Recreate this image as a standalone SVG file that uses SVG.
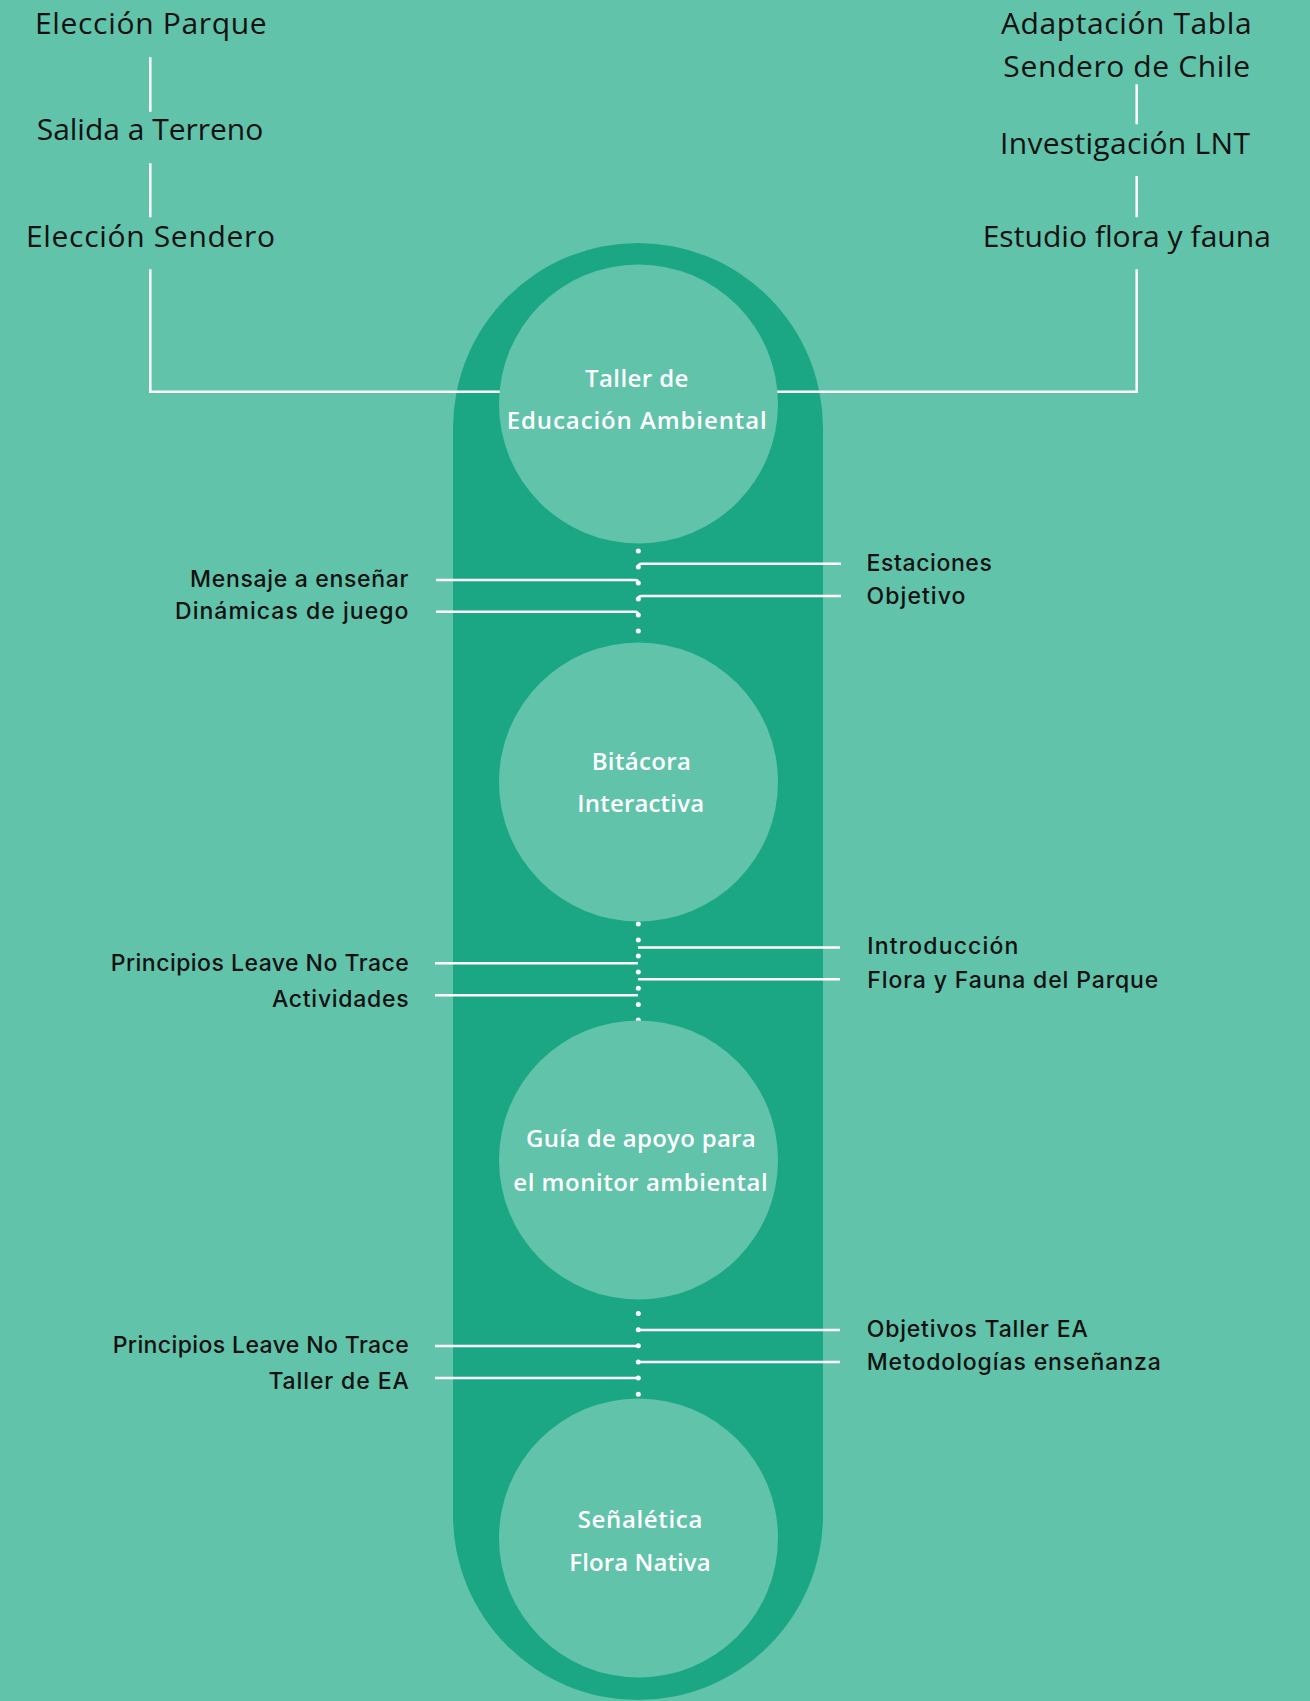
<svg xmlns="http://www.w3.org/2000/svg" width="1310" height="1701" viewBox="0 0 1310 1701">
<style>
.top{font-family:"Open Sans","Liberation Sans",sans-serif;font-size:30px;font-weight:400;fill:#111;text-anchor:middle}
.lbl{font-family:Inter,"Open Sans","Liberation Sans",sans-serif;font-size:23px;font-weight:500;fill:#111}
.r{text-anchor:end}
.ct{font-family:"Open Sans","Liberation Sans",sans-serif;font-size:24px;font-weight:600;fill:#fff;text-anchor:middle}
.ln{stroke:#fff;stroke-width:2.5;fill:none}
.node{fill:#60c3aa}
.dot{fill:#fff}
</style>
<rect width="1310" height="1701" fill="#60c3aa"/>
<rect id="track" x="453" y="243" width="370" height="1457" rx="185" ry="185" fill="#1ca784"/>

<g id="connectors">
  <path class="ln" d="M150.3 57.3V111.7M150.3 163.3V217.3M150.3 269.3V391.7H500"/>
  <path class="ln" d="M1136.7 84.3V124.3M1136.7 176V217.3M1136.7 269.3V391.7H777"/>
  <!-- section 1 -->
  <path class="ln" d="M841 563.7H642Q638.3 563.7 638.3 567"/>
  <path class="ln" d="M436 580H635Q638.3 580 638.3 583"/>
  <path class="ln" d="M841 596H642Q638.3 596 638.3 599"/>
  <path class="ln" d="M436 611.7H635Q638.3 611.7 638.3 615"/>
  <g class="dot">
    <circle cx="638.3" cy="551" r="2.5"/><circle cx="638.3" cy="567" r="2.5"/><circle cx="638.3" cy="583" r="2.5"/>
    <circle cx="638.3" cy="599" r="2.5"/><circle cx="638.3" cy="615" r="2.5"/><circle cx="638.3" cy="631" r="2.5"/>
  </g>
  <!-- section 2 -->
  <path class="ln" d="M638 947.5H840M435 963.3H638M638 979.3H840M435 995.3H638"/>
  <g class="dot">
    <circle cx="638.3" cy="924" r="2.5"/><circle cx="638.3" cy="940" r="2.5"/><circle cx="638.3" cy="956" r="2.5"/>
    <circle cx="638.3" cy="972" r="2.5"/><circle cx="638.3" cy="988.2" r="2.5"/><circle cx="638.3" cy="1004.5" r="2.5"/>
    <circle cx="638.3" cy="1020" r="2.5"/>
  </g>
  <!-- section 3 -->
  <path class="ln" d="M638 1330H840M435 1346H638M638 1362H840M435 1378H638"/>
  <g class="dot">
    <circle cx="638.3" cy="1313.5" r="2.5"/><circle cx="638.3" cy="1329.8" r="2.5"/><circle cx="638.3" cy="1345.8" r="2.5"/>
    <circle cx="638.3" cy="1362" r="2.5"/><circle cx="638.3" cy="1378" r="2.5"/><circle cx="638.3" cy="1394.3" r="2.5"/>
  </g>
</g>

<g id="eleccion-parque"><text class="top" x="150.8" y="34.3" textLength="231.7">Elección Parque</text></g>
<g id="salida-terreno"><text class="top" x="150" y="140" textLength="226.6">Salida a Terreno</text></g>
<g id="eleccion-sendero"><text class="top" x="150.5" y="246.7" textLength="249">Elección Sendero</text></g>
<g id="adaptacion-tabla">
  <text class="top" x="1126.3" y="34.3" textLength="250.7">Adaptación Tabla</text>
  <text class="top" x="1126.7" y="76.7" textLength="246.7">Sendero de Chile</text>
</g>
<g id="investigacion-lnt"><text class="top" x="1125" y="154.3" textLength="250">Investigación LNT</text></g>
<g id="estudio-flora"><text class="top" x="1126.8" y="246.7" textLength="288.3">Estudio flora y fauna</text></g>

<g id="taller-ea">
  <circle class="node" cx="638.5" cy="404" r="139.5"/>
  <text class="ct" x="636.7" y="386.7" textLength="103.3">Taller de</text>
  <text class="ct" x="636.7" y="429.3" textLength="260">Educación Ambiental</text>
</g>
<g id="bitacora">
  <circle class="node" cx="638.5" cy="782" r="139.5"/>
  <text class="ct" x="641.3" y="770" textLength="99.3">Bitácora</text>
  <text class="ct" x="640.7" y="812.3" textLength="126.7">Interactiva</text>
</g>
<g id="guia">
  <circle class="node" cx="638.5" cy="1160" r="139.5"/>
  <text class="ct" x="640.8" y="1146.7" textLength="229.7">Guía de apoyo para</text>
  <text class="ct" x="640.5" y="1191" textLength="254.4">el monitor ambiental</text>
</g>
<g id="senaletica">
  <circle class="node" cx="638.5" cy="1538" r="139.5"/>
  <text class="ct" x="640" y="1528.3" textLength="124.6">Señalética</text>
  <text class="ct" x="640" y="1570.7" textLength="141.4">Flora Nativa</text>
</g>

<g id="labels-1">
  <text class="lbl" x="866.5" y="570.7" textLength="125.3">Estaciones</text>
  <text class="lbl" x="866.5" y="604" textLength="99">Objetivo</text>
  <text class="lbl r" x="408.5" y="587" textLength="218.5">Mensaje a enseñar</text>
  <text class="lbl r" x="408.5" y="619" textLength="233.5">Dinámicas de juego</text>
</g>
<g id="labels-2">
  <text class="lbl" x="867.3" y="954" textLength="151">Introducción</text>
  <text class="lbl" x="867.3" y="988.3" textLength="291">Flora y Fauna del Parque</text>
  <text class="lbl r" x="408.7" y="970.7" textLength="298">Principios Leave No Trace</text>
  <text class="lbl r" x="408.7" y="1007.3" textLength="136.8">Actividades</text>
</g>
<g id="labels-3">
  <text class="lbl" x="866.7" y="1336.7" textLength="221">Objetivos Taller EA</text>
  <text class="lbl" x="866.7" y="1370" textLength="294">Metodologías enseñanza</text>
  <text class="lbl r" x="408.7" y="1353.3" textLength="296">Principios Leave No Trace</text>
  <text class="lbl r" x="408.7" y="1389.3" textLength="140.3">Taller de EA</text>
</g>
</svg>
